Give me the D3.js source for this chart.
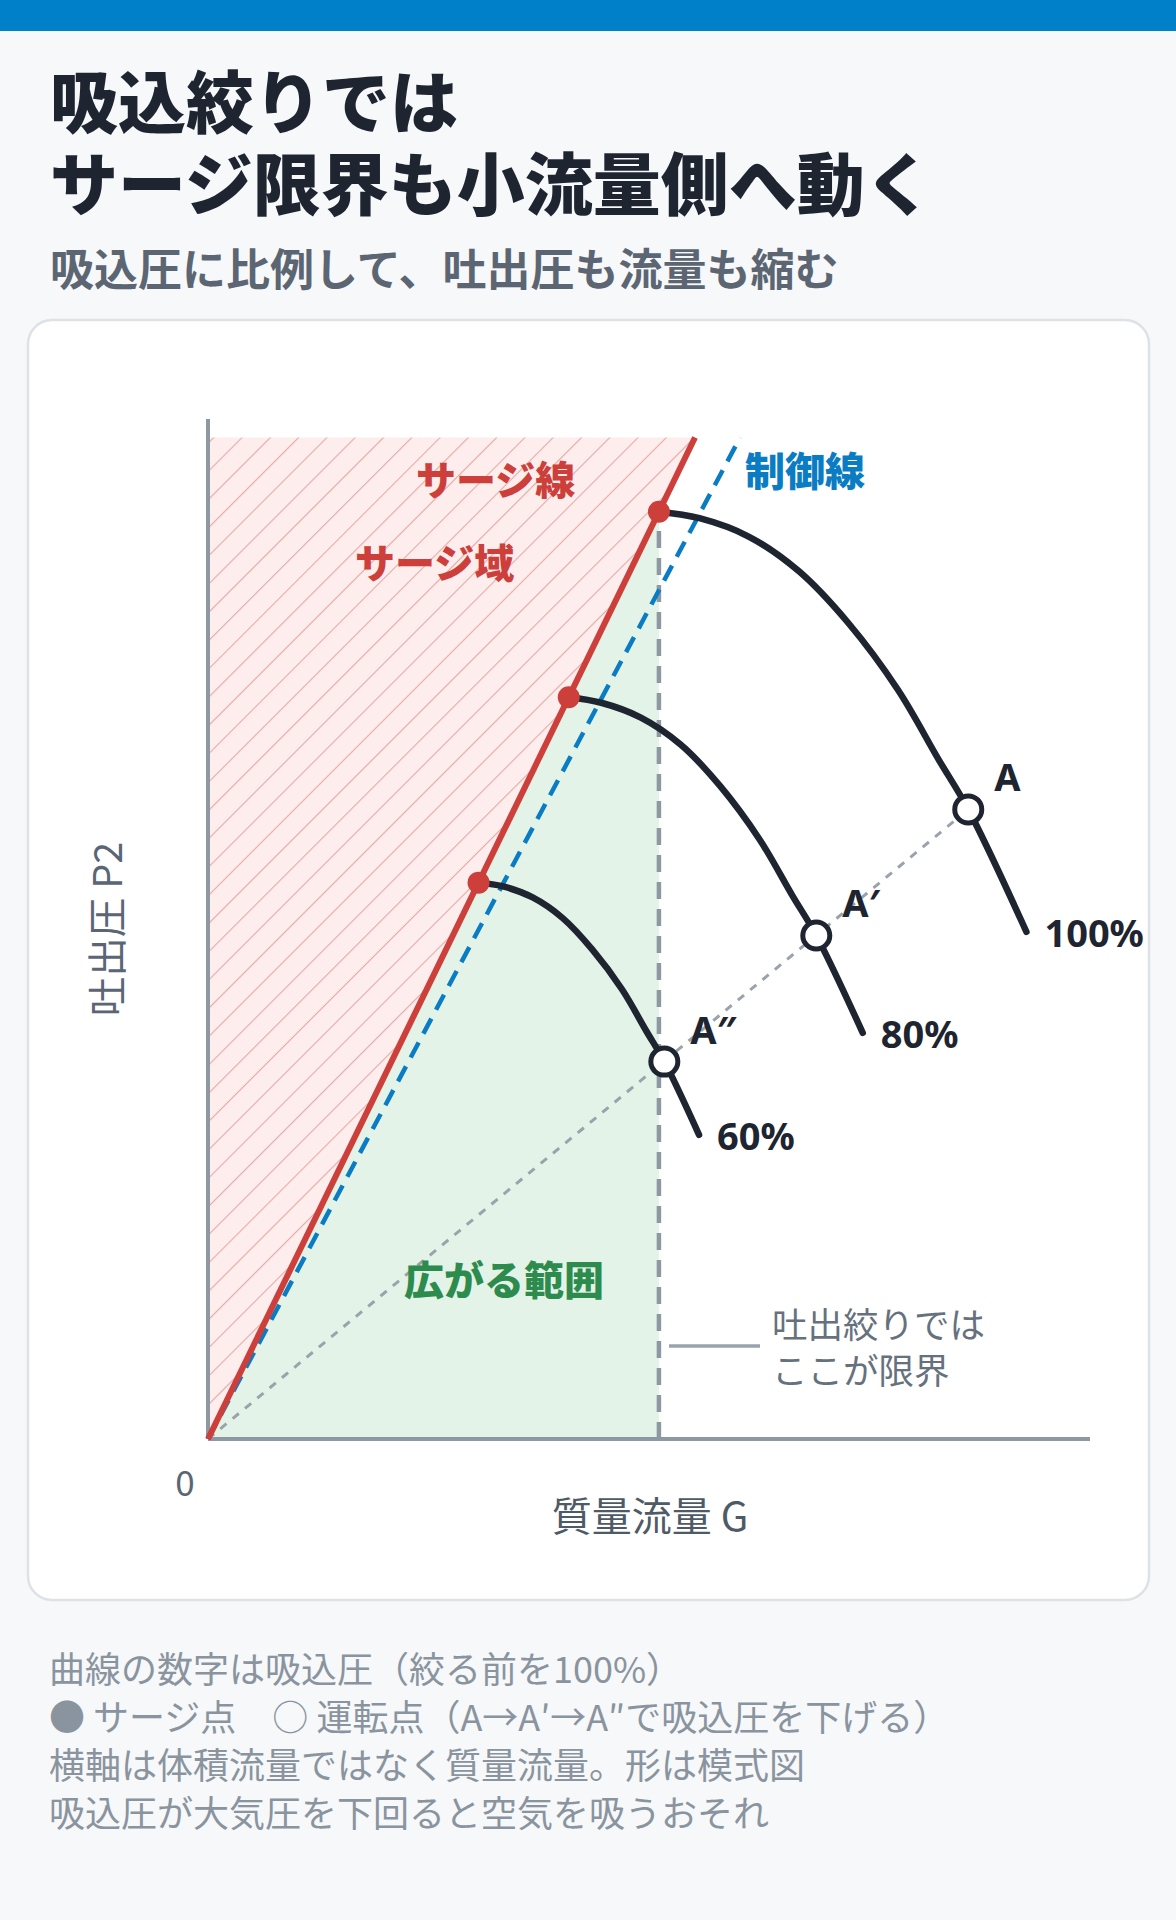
<!DOCTYPE html>
<html>
<head>
<meta charset="utf-8">
<script src="https://cdn.jsdelivr.net/npm/d3@7"></script>
<style>
  html, body { margin: 0; padding: 0; background: #f6f8fa; }
  svg { display: block; font-family: "Noto Sans CJK JP", "Noto Sans", sans-serif; }
</style>
</head>
<body>
<div id="chart"></div>
<script>
// 100%, 80%, 60% suction-pressure characteristic curves (mass flow G, discharge P2), surge point first
const curve100 = [[1.00, 1.000], [1.09, 0.993], [1.20, 0.973], [1.31, 0.936], [1.42, 0.880], [1.53, 0.808], [1.62, 0.733], [1.686, 0.679], [1.815, 0.547]];
const curve80 = [[0.80, 0.800], [0.872, 0.794], [0.96, 0.778], [1.048, 0.749], [1.136, 0.704], [1.224, 0.646], [1.296, 0.586], [1.349, 0.543], [1.452, 0.438]];
const curve60 = [[0.60, 0.600], [0.654, 0.596], [0.72, 0.584], [0.786, 0.562], [0.852, 0.528], [0.918, 0.485], [0.972, 0.440], [1.012, 0.407], [1.089, 0.328]];
const curveLabels = ["100%", "80%", "60%"];

const surgePoints = [[1.0, 1.0], [0.8, 0.8], [0.6, 0.6]];
const operatingPoints = [[1.686, 0.679], [1.349, 0.543], [1.012, 0.407]];
const operatingLabels = ["A", "A′", "A″"];

const surgeLineEnd = [1.08, 1.08];
const controlLineEnd = [1.18, 1.08];
const hatchTop = 1.08;

const titleLines = ["吸込絞りでは", "サージ限界も小流量側へ動く"];
const subtitle = "吸込圧に比例して、吐出圧も流量も縮む";
const notes = [
    "曲線の数字は吸込圧（絞る前を100%）",
    "● サージ点　○ 運転点（A→A′→A″で吸込圧を下げる）",
    "横軸は体積流量ではなく質量流量。形は模式図",
    "吸込圧が大気圧を下回ると空気を吸うおそれ",
];

const W = 1176, H = 1920;
const dark = "#1e2530", red = "#cc3f3a", blue = "#0a7cc4", gray = "#8e98a2";

const svg = d3.select("#chart").append("svg")
    .attr("width", W)
    .attr("height", H);

svg.append("rect").attr("width", W).attr("height", H).attr("fill", "#f6f8fa");
svg.append("rect").attr("width", W).attr("height", 31).attr("fill", "#0080c9");

svg.selectAll("text.title")
    .data(titleLines)
    .enter().append("text")
    .attr("class", "title")
    .attr("x", 50)
    .attr("y", (d, i) => 98 + i * 82)
    .attr("dominant-baseline", "central")
    .attr("font-size", 68)
    .attr("font-weight", 900)
    .attr("fill", dark)
    .text(d => d);

svg.append("text")
    .attr("x", 50).attr("y", 267)
    .attr("dominant-baseline", "central")
    .attr("font-size", 44)
    .attr("font-weight", 700)
    .attr("fill", "#5c6673")
    .text(subtitle);

// card
svg.append("rect")
    .attr("x", 28).attr("y", 320)
    .attr("width", 1121).attr("height", 1280)
    .attr("rx", 24)
    .attr("fill", "#ffffff")
    .attr("stroke", "#dde2e7")
    .attr("stroke-width", 2.5);

const x = d3.scaleLinear().domain([0, 1.956]).range([208, 1090]);
const y = d3.scaleLinear().domain([0, 1.1]).range([1439, 419]);

const defs = svg.append("defs");
const pat = defs.append("pattern")
    .attr("id", "hatch")
    .attr("patternUnits", "userSpaceOnUse")
    .attr("width", 20).attr("height", 20)
    .attr("patternTransform", "rotate(45)");
pat.append("rect").attr("width", 20).attr("height", 20).attr("fill", "#fdeded");
pat.append("line")
    .attr("x1", 0).attr("y1", 0).attr("x2", 0).attr("y2", 20)
    .attr("stroke", "#e6aaa5").attr("stroke-width", 2.2);

const poly = d3.line().x(d => x(d[0])).y(d => y(d[1]));

// surge region (hatched)
svg.append("path")
    .attr("d", poly([[0, 0], [0, hatchTop], surgeLineEnd]) + "Z")
    .attr("fill", "url(#hatch)");

// widened range (green)
svg.append("path")
    .attr("d", poly([[0, 0], surgePoints[0], [surgePoints[0][0], 0]]) + "Z")
    .attr("fill", "#e3f3e8");

// axes
svg.append("line")
    .attr("x1", x(0)).attr("y1", y(0)).attr("x2", x(0)).attr("y2", y(1.1))
    .attr("stroke", gray).attr("stroke-width", 4);
svg.append("line")
    .attr("x1", x(0)).attr("y1", y(0)).attr("x2", x(1.956)).attr("y2", y(0))
    .attr("stroke", gray).attr("stroke-width", 4);

// discharge-throttle limit
svg.append("line")
    .attr("x1", x(surgePoints[0][0])).attr("y1", y(0))
    .attr("x2", x(surgePoints[0][0])).attr("y2", y(surgePoints[0][1]))
    .attr("stroke", gray).attr("stroke-width", 4.5)
    .attr("stroke-dasharray", "17 10");

// operating line through A, A', A''
svg.append("path")
    .attr("d", poly([[0, 0], operatingPoints[0]]))
    .attr("stroke", "#9aa3ac").attr("stroke-width", 3)
    .attr("stroke-dasharray", "8 8")
    .attr("fill", "none");

// control line
svg.append("path")
    .attr("d", poly([[0, 0], controlLineEnd]))
    .attr("stroke", blue).attr("stroke-width", 4.5)
    .attr("stroke-dasharray", "17 10")
    .attr("fill", "none");

// surge line
svg.append("path")
    .attr("d", poly([[0, 0], surgeLineEnd]))
    .attr("stroke", red).attr("stroke-width", 6)
    .attr("fill", "none");

// characteristic curves
const curves = [curve100, curve80, curve60];
const smooth = d3.line().x(d => x(d[0])).y(d => y(d[1])).curve(d3.curveCatmullRom.alpha(0.5));

svg.append("g")
    .selectAll("path")
    .data(curves)
    .enter().append("path")
    .attr("d", smooth)
    .attr("fill", "none")
    .attr("stroke", dark)
    .attr("stroke-width", 6.5)
    .attr("stroke-linecap", "round");

svg.append("g")
    .selectAll("text")
    .data(curves)
    .enter().append("text")
    .attr("x", d => x(d[d.length - 1][0]) + 18)
    .attr("y", d => y(d[d.length - 1][1]))
    .attr("dominant-baseline", "central")
    .attr("font-family", "'Noto Sans', sans-serif")
    .attr("font-size", 38)
    .attr("font-weight", 700)
    .attr("fill", dark)
    .text((d, i) => curveLabels[i]);

svg.append("g")
    .selectAll("circle")
    .data(surgePoints)
    .enter().append("circle")
    .attr("cx", d => x(d[0]))
    .attr("cy", d => y(d[1]))
    .attr("r", 11)
    .attr("fill", red);

svg.append("g")
    .selectAll("circle")
    .data(operatingPoints)
    .enter().append("circle")
    .attr("cx", d => x(d[0]))
    .attr("cy", d => y(d[1]))
    .attr("r", 13.5)
    .attr("fill", "#ffffff")
    .attr("stroke", dark)
    .attr("stroke-width", 5);

svg.append("g")
    .selectAll("text")
    .data(operatingPoints)
    .enter().append("text")
    .attr("x", d => x(d[0]) + 26)
    .attr("y", d => y(d[1]) - 33)
    .attr("dominant-baseline", "central")
    .attr("font-family", "'Noto Sans', sans-serif")
    .attr("font-size", 38)
    .attr("font-weight", 700)
    .attr("fill", dark)
    .text((d, i) => operatingLabels[i]);

// region labels
const regionLabels = [
    { t: "サージ線", x: 416, y: 478, c: red },
    { t: "サージ域", x: 355, y: 561, c: red },
    { t: "制御線", x: 745, y: 469, c: blue },
    { t: "広がる範囲", x: 404, y: 1278, c: "#2e8b4e" },
];
svg.append("g")
    .selectAll("text")
    .data(regionLabels)
    .enter().append("text")
    .attr("x", d => d.x)
    .attr("y", d => d.y)
    .attr("dominant-baseline", "central")
    .attr("font-size", 40)
    .attr("font-weight", 900)
    .attr("fill", d => d.c)
    .text(d => d.t);

// annotation for discharge throttling limit
svg.append("line")
    .attr("x1", 669).attr("y1", 1346).attr("x2", 760).attr("y2", 1346)
    .attr("stroke", "#9aa3ac").attr("stroke-width", 3.5);
svg.append("g")
    .selectAll("text")
    .data(["吐出絞りでは", "ここが限界"])
    .enter().append("text")
    .attr("x", 772)
    .attr("y", (d, i) => 1322 + i * 46)
    .attr("dominant-baseline", "central")
    .attr("font-size", 35.5)
    .attr("fill", "#66717e")
    .text(d => d);

// axis titles
svg.append("text")
    .attr("x", 185).attr("y", 1480)
    .attr("text-anchor", "middle")
    .attr("dominant-baseline", "central")
    .attr("font-size", 35)
    .attr("fill", "#5a6675")
    .text("0");

svg.append("text")
    .attr("x", 650).attr("y", 1514)
    .attr("text-anchor", "middle")
    .attr("dominant-baseline", "central")
    .attr("font-size", 40)
    .attr("fill", "#4f5a67")
    .text("質量流量 G");

svg.append("text")
    .attr("transform", "translate(104,929) rotate(-90)")
    .attr("text-anchor", "middle")
    .attr("dominant-baseline", "central")
    .attr("font-size", 39.5)
    .attr("fill", "#5a6675")
    .text("吐出圧 P2");

// notes
svg.append("g")
    .selectAll("text")
    .data(notes)
    .enter().append("text")
    .attr("x", 49)
    .attr("y", (d, i) => 1667 + i * 48)
    .attr("dominant-baseline", "central")
    .attr("font-size", 36)
    .attr("fill", "#8a949e")
    .text(d => d);
</script>
</body>
</html>
